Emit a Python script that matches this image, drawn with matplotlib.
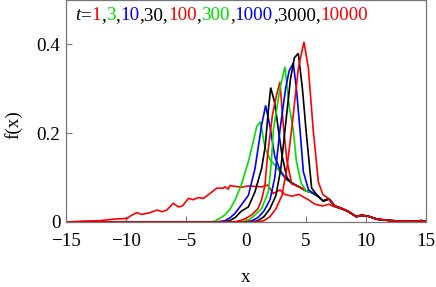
import numpy as np
import matplotlib
matplotlib.use("Agg")
import matplotlib.pyplot as plt

plt.rcParams['font.family'] = ['Liberation Serif', 'DejaVu Serif']

RED = '#ff0000'
GREEN = '#00e000'
BLUE = '#0000ff'
BLACK = '#000000'

# t = 1 (broad)
x_t1 = [-15, -13.6, -12.2, -10.8, -9.9, -9.67, -9.1, -8.7, -8.0, -7.4, -7.0, -6.6, -6.06, -5.64, -5.3,
        -4.8, -4.4, -3.97, -3.55, -3.0, -2.44, -1.9, -1.75, -1.5, -1.33, -0.9, -0.4, 0.2, 0.75, 1.3,
        1.8, 2.28, 2.83, 3.25, 3.8, 4.4, 5.2, 5.75, 6.4, 6.9, 7.4, 8.25, 9.2, 9.6, 10.2, 11.0, 12.1,
        13.8, 14.6, 15]
y_t1 = [0.0, 0.002, 0.003, 0.007, 0.008, 0.013, 0.021, 0.017, 0.021, 0.027, 0.023, 0.027, 0.042, 0.034, 0.036,
        0.053, 0.050, 0.055, 0.053, 0.064, 0.076, 0.076, 0.079, 0.074, 0.082, 0.080, 0.078, 0.081, 0.080, 0.079,
        0.083, 0.064, 0.072, 0.062, 0.058, 0.062, 0.050, 0.040, 0.036, 0.040, 0.034, 0.027, 0.012, 0.015, 0.013,
        0.006, 0.003, 0.001, 0.003, 0.001]

# shared right tail of the narrow curves
tail_x = [4.0, 4.5, 5.0, 5.5, 6.0, 6.44, 6.9, 7.4, 8.0, 8.5, 9.2, 9.6, 10.2, 10.6, 11.0, 12.1, 13.0, 13.8, 14.6, 15.0]
tail_y = [0.085, 0.078, 0.070, 0.066, 0.058, 0.047, 0.052, 0.036, 0.030, 0.024, 0.012, 0.015, 0.013, 0.009,
          0.006, 0.003, 0.002, 0.001, 0.003, 0.001]

# t = 3
x_t3 = [-15, -3.0, -2.6, -2.2, -1.75, -1.3, -0.9, -0.4, 0.2, 0.6, 0.9, 1.2, 1.6, 2.0, 2.4, 2.9, 3.4]
y_t3 = [0.0, 0.0, 0.002, 0.008, 0.016, 0.03, 0.05, 0.083, 0.136, 0.18, 0.215, 0.225, 0.165, 0.14, 0.128, 0.11, 0.094]
# t = 10
x_t10 = [-15, -2.5, -1.75, -1.3, -0.9, -0.4, 0.2, 0.75, 1.3, 1.64, 2.0, 2.4, 2.83, 3.3]
y_t10 = [0.0, 0.0, 0.003, 0.01, 0.02, 0.038, 0.06, 0.12, 0.218, 0.262, 0.214, 0.147, 0.117, 0.098]
# t = 30
x_t30 = [-15, -1.8, -1.3, -0.9, -0.4, 0.2, 0.75, 1.3, 1.6, 1.86, 2.06, 2.4, 2.7, 3.0, 3.4, 3.8]
y_t30 = [0.0, 0.0, 0.004, 0.01, 0.024, 0.034, 0.068, 0.12, 0.17, 0.25, 0.302, 0.267, 0.207, 0.15, 0.1, 0.087]
# t = 100
x_t100 = [-15, -1.0, -0.4, 0.0, 0.47, 1.0, 1.3, 1.58, 1.8, 2.2, 2.5, 2.83, 3.1, 3.4, 3.8]
y_t100 = [0.0, 0.0, 0.004, 0.008, 0.016, 0.03, 0.05, 0.083, 0.15, 0.24, 0.28, 0.315, 0.22, 0.14, 0.086]
# t = 300
x_t300 = [-15, -0.5, 0.2, 0.75, 1.3, 1.86, 2.1, 2.28, 2.83, 3.25, 3.6, 3.94, 4.2, 4.6]
y_t300 = [0.0, 0.0, 0.004, 0.016, 0.03, 0.068, 0.13, 0.207, 0.30, 0.349, 0.26, 0.207, 0.136, 0.087]
# t = 1000
x_t1000 = [-15, 0.0, 0.5, 1.0, 1.5, 2.0, 2.4, 2.83, 3.3, 3.6, 3.94, 4.2, 4.5, 4.78, 5.2]
y_t1000 = [0.0, 0.0, 0.003, 0.01, 0.025, 0.05, 0.10, 0.207, 0.30, 0.34, 0.357, 0.30, 0.207, 0.113, 0.073]
# t = 3000
x_t3000 = [-15, 0.5, 1.0, 1.5, 2.0, 2.5, 2.9, 3.25, 3.7, 4.03, 4.36, 4.7, 5.0, 5.47]
y_t3000 = [0.0, 0.0, 0.003, 0.012, 0.03, 0.06, 0.12, 0.207, 0.32, 0.369, 0.379, 0.30, 0.207, 0.076]
# t = 10000
x_t10000 = [-15, 1.0, 1.5, 2.0, 2.5, 3.0, 3.4, 3.8, 4.36, 4.83, 5.2, 5.6, 6.03, 6.4]
y_t10000 = [0.0, 0.0, 0.003, 0.012, 0.03, 0.06, 0.12, 0.207, 0.345, 0.405, 0.345, 0.207, 0.09, 0.062]

series = [
    (x_t1, y_t1, RED, False),
    (x_t3, y_t3, GREEN, True),
    (x_t10, y_t10, BLUE, True),
    (x_t30, y_t30, BLACK, True),
    (x_t100, y_t100, RED, True),
    (x_t300, y_t300, GREEN, True),
    (x_t1000, y_t1000, BLUE, True),
    (x_t3000, y_t3000, BLACK, True),
    (x_t10000, y_t10000, RED, True),
]

title_parts = [("t", BLACK, 'italic'), ("=", BLACK, 'normal'), ("1", RED, 'normal'), (",", BLACK, 'normal'),
               ("3", GREEN, 'normal'), (",", BLACK, 'normal'), ("10", BLUE, 'normal'), (",30,", BLACK, 'normal'),
               ("100", RED, 'normal'), (",", BLACK, 'normal'), ("300", GREEN, 'normal'), (",", BLACK, 'normal'),
               ("1000", BLUE, 'normal'), (",3000,", BLACK, 'normal'), ("10000", RED, 'normal')]

xticks = [-15, -10, -5, 0, 5, 10, 15]
xticklabels = ["\u221215", "\u221210", "\u22125", "0", "5", "10", "15"]
yticks = [0, 0.2, 0.4]
yticklabels = ["0", "0.2", "0.4"]

W, H = 436, 287
fig = plt.figure(figsize=(W / 100, H / 100), dpi=100)
ax = fig.add_axes([66 / W, 1 - 222 / H, 360 / W, 222 / H])

for xs, ys, col, use_tail in series:
    xs = list(xs)
    ys = list(ys)
    if use_tail:
        last = xs[-1]
        for tx, ty in zip(tail_x, tail_y):
            if tx > last + 0.2:
                xs.append(tx)
                ys.append(ty)
    ax.plot(xs, ys, color=col, lw=1.2, solid_joinstyle='miter')

ax.set_xlim(-15, 15)
ax.set_ylim(0, 0.4989)
ax.set_xticks(xticks)
ax.set_xticklabels(xticklabels)
ax.set_yticks(yticks)
ax.set_yticklabels(yticklabels)
fs = 13.8
ax.tick_params(direction='in', length=4, width=0.8, color='#777777', labelsize=fs)
ax.tick_params(axis='x', pad=8)
ax.tick_params(axis='y', pad=4)
for sp in ax.spines.values():
    sp.set_color('#777777')
    sp.set_linewidth(0.9)

ax.set_xlabel("x", fontsize=fs)
ax.set_ylabel("f(x)", fontsize=fs)
ax.xaxis.set_label_coords(0.5, (222 - 278) / 222)
ax.xaxis.label.set_va('center')
ax.yaxis.set_label_coords((13 - 66) / 360, (222 - 125) / 222)
ax.yaxis.label.set_va('center')

# multicolour title
prev = None
for s, col, style in title_parts:
    if prev is None:
        prev = ax.text((75 - 66) / 360, (222 - 24) / 222, s, color=col, fontsize=fs, style=style,
                       transform=ax.transAxes, ha='left', va='bottom')
    else:
        prev = ax.annotate(s, xy=(1, 0), xycoords=prev, color=col, fontsize=fs, style=style,
                           ha='left', va='bottom')

fig.savefig("out.png", dpi=100)
